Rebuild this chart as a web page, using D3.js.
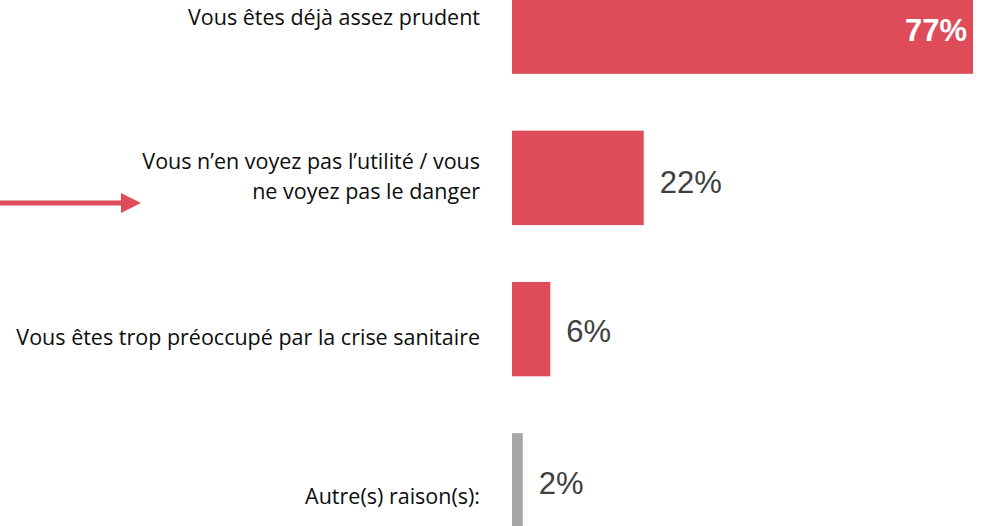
<!DOCTYPE html>
<html>
<head>
<meta charset="utf-8">
<script src="https://cdn.jsdelivr.net/npm/d3@7"></script>
<style>
  html, body { margin: 0; padding: 0; background: #fff; }
</style>
</head>
<body>
<div id="chart"></div>
<script>
// data
const categories = [
    ["Vous êtes déjà assez prudent"],
    ["Vous n’en voyez pas l’utilité / vous", "ne voyez pas le danger"],
    ["Vous êtes trop préoccupé par la crise sanitaire"],
    ["Autre(s) raison(s):"]
];
const values = [77, 22, 6.4, 1.8];
const barColors = ["#de4c5a", "#de4c5a", "#de4c5a", "#a6a6a6"];

const
    width = 995,
    height = 526,
    barLeft = 512,
    labelRight = 480,
    svg = d3.select("#chart").append("svg").attr("width", width).attr("height", height);

const xScale = d3.scaleLinear()
    .domain([0, 77])
    .range([barLeft, 973]);

const yScale = d3.scaleBand()
    .domain(d3.range(categories.length))
    .range([-49, 556])
    .paddingInner(0.376)
    .paddingOuter(0.188);

const pct = d3.format(".0f");

svg.selectAll(".bar")
    .data(values)
    .enter().append("rect")
    .attr("class", "bar")
    .attr("x", xScale(0))
    .attr("y", (d, i) => yScale(i))
    .attr("width", d => xScale(d) - xScale(0))
    .attr("height", yScale.bandwidth())
    .attr("fill", (d, i) => barColors[i]);

// value labels: first one inside the bar, white and bold
const valueOffsets = [14, 15, 13, 14];
svg.selectAll(".value")
    .data(values)
    .enter().append("text")
    .attr("class", "value")
    .attr("x", (d, i) => i === 0 ? xScale(d) - 6 : xScale(d) + 16)
    .attr("y", (d, i) => yScale(i) + yScale.bandwidth() / 2 + valueOffsets[i])
    .attr("text-anchor", (d, i) => i === 0 ? "end" : "start")
    .attr("fill", (d, i) => i === 0 ? "#ffffff" : "#404040")
    .style("font-family", "'Liberation Sans', Arial, sans-serif")
    .style("font-size", "31px")
    .style("font-weight", (d, i) => i === 0 ? "bold" : "normal")
    .text(d => pct(d) + "%");

// category labels (baseline of first line relative to bar centre)
const labelOffsets = [-1.5, -8.5, 15.5, 23.5];
const labels = svg.selectAll(".label")
    .data(categories)
    .enter().append("text")
    .attr("class", "label")
    .attr("text-anchor", "end")
    .attr("fill", "#0d0d0d")
    .style("font-family", "'Open Sans', sans-serif")
    .style("font-size", "21.5px")
    .style("font-variant-ligatures", "none");

labels.each(function (lines, i) {
    const first = yScale(i) + yScale.bandwidth() / 2 + labelOffsets[i];
    d3.select(this).selectAll("tspan")
        .data(lines)
        .enter().append("tspan")
        .attr("x", labelRight)
        .attr("y", (d, j) => first + j * 30)
        .text(d => d);
});

// arrow pointing at the second answer
const arrowY = yScale(1) + yScale.bandwidth() / 2 + 25;
svg.append("line")
    .attr("x1", 0)
    .attr("x2", 122)
    .attr("y1", arrowY)
    .attr("y2", arrowY)
    .attr("stroke", "#de4c5a")
    .attr("stroke-width", 5);

svg.append("path")
    .attr("d", d3.line()([[121, arrowY - 10], [141, arrowY], [121, arrowY + 10]]) + "Z")
    .attr("fill", "#de4c5a");
</script>
</body>
</html>
